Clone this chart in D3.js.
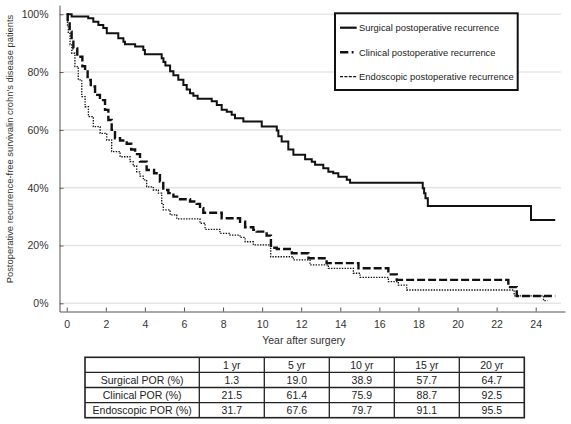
<!DOCTYPE html>
<html><head><meta charset="utf-8">
<script src="https://cdn.jsdelivr.net/npm/d3@7"></script>
<style>
body{margin:0;background:#fff}
svg{display:block}
text{font-family:"Liberation Sans",Arial,sans-serif}
</style>
</head><body>
<svg id="chart" width="571" height="424"></svg>
<script>
// ---------- data ----------
const surgicalTime = [0, 0.25, 1.1, 1.36, 1.62, 1.87, 2.05, 2.64, 2.9, 2.98, 3.5, 3.92, 4.0, 4.86, 4.95, 5.05, 5.29, 5.46, 5.71, 5.97, 6.14, 6.31, 6.48, 6.7, 7.42, 7.68, 7.93, 8.19, 8.44, 8.61, 9.04, 9.98, 10.75, 10.83, 11.0, 11.34, 11.6, 12.2, 12.54, 12.71, 13.13, 13.39, 13.64, 13.9, 14.33, 14.5, 18.22, 18.29, 18.36, 18.48, 23.76, 25.0];
const surgicalSurv = [100, 99.2, 98.6, 97.4, 96.3, 95.2, 93.4, 91.7, 90.5, 89.6, 88.8, 87.6, 86.2, 84.8, 83.5, 82.3, 80.3, 78.9, 77.3, 75.5, 74.0, 72.7, 71.8, 70.8, 69.9, 68.6, 67.0, 66.3, 65.2, 64.0, 62.9, 61.2, 59.8, 57.8, 56.0, 53.2, 51.4, 49.8, 49.0, 47.9, 46.7, 45.5, 45.0, 43.8, 42.7, 41.7, 39.8, 38.1, 36.3, 33.7, 28.8, 28.8];

const clinicalTime = [0, 0.05, 0.15, 0.25, 0.34, 0.54, 0.8, 0.94, 1.07, 1.23, 1.45, 1.7, 1.96, 2.13, 2.3, 2.47, 2.73, 3.07, 3.3, 3.5, 3.75, 4.09, 4.47, 4.77, 4.94, 5.2, 5.46, 5.8, 6.31, 6.65, 6.82, 6.99, 7.93, 8.87, 9.13, 9.55, 9.72, 10.23, 10.45, 10.75, 11.52, 12.37, 13.3, 14.93, 16.46, 16.89, 22.6, 23.03, 25.0];
const clinicalSurv = [100, 97.5, 94, 91, 88.2, 85.3, 82, 80.7, 77.3, 75.0, 72.1, 70.3, 66.9, 63.4, 60.0, 57.1, 56.3, 55.2, 53.2, 51.6, 49.0, 46.1, 45.0, 42.1, 39.2, 38.1, 36.9, 36.0, 35.2, 34.4, 32.9, 31.3, 29.4, 28.2, 26.3, 25.4, 24.8, 23.4, 19.2, 18.8, 17.3, 15.6, 13.9, 12.1, 10.0, 8.1, 5.6, 2.5, 2.5];

const endoscopicTime = [0, 0.04, 0.08, 0.17, 0.26, 0.42, 0.59, 0.77, 0.94, 1.11, 1.36, 1.71, 2.05, 2.3, 2.73, 3.24, 3.4, 3.58, 3.75, 3.92, 4.09, 4.43, 4.69, 4.86, 4.94, 5.29, 5.63, 6.82, 7.08, 7.84, 8.36, 8.87, 9.13, 9.55, 10.44, 11.6, 12.45, 13.39, 14.67, 15.01, 16.46, 16.97, 17.4, 22.9, 24.4, 24.6];
const endoscopicSurv = [100, 96, 93.4, 89.5, 86.5, 81.9, 77.3, 71.5, 68.0, 64.6, 61.1, 58.8, 56.5, 52.5, 50.7, 49.0, 47.5, 45.5, 44.0, 42.7, 40.3, 39.2, 38.1, 34.6, 32.3, 30.6, 29.2, 27.7, 25.6, 24.2, 23.6, 22.8, 21.3, 20.2, 16.1, 15.0, 13.3, 12.1, 10.4, 9.0, 7.5, 6.3, 4.6, 2.6, 0.9, 0.9];

const seriesNames = ["Surgical postoperative recurrence", "Clinical postoperative recurrence", "Endoscopic postoperative recurrence"];
const xTickValues = [0, 2, 4, 6, 8, 10, 12, 14, 16, 18, 20, 22, 24];
const yTickValues = [0, 20, 40, 60, 80, 100];
const xTitle = "Year after surgery";
const yTitle = "Postoperative recurrence-free survivalin crohn's disease patients";

const tableYears = ["1 yr", "5 yr", "10 yr", "15 yr", "20 yr"];
const tableRowLabels = ["Surgical POR (%)", "Clinical POR (%)", "Endoscopic POR (%)"];
const surgicalPOR = ["1.3", "19.0", "38.9", "57.7", "64.7"];
const clinicalPOR = ["21.5", "61.4", "75.9", "88.7", "92.5"];
const endoscopicPOR = ["31.7", "67.6", "79.7", "91.1", "95.5"];

// ---------- chart ----------
const svg = d3.select("#chart");
const x = d3.scaleLinear().domain([-0.37, 25.5]).range([59.5, 565]);
const y = d3.scaleLinear().domain([-2.84, 103.2]).range([311.5, 5]);

// gridlines
svg.append("g").selectAll("line").data(yTickValues).join("line")
  .attr("x1", 63).attr("x2", 561)
  .attr("y1", d => y(d)).attr("y2", d => y(d))
  .attr("stroke", "#e6e6e6").attr("stroke-width", 1.6);

// axes
const gx = svg.append("g").attr("transform", "translate(0,311.5)")
  .call(d3.axisBottom(x).tickValues(xTickValues).tickSize(-4).tickSizeOuter(0).tickPadding(9.5));
const gy = svg.append("g").attr("transform", "translate(59.5,0)")
  .call(d3.axisLeft(y).tickValues(yTickValues).tickFormat(d => d + "%").tickSize(-4).tickSizeOuter(0).tickPadding(11));
[gx, gy].forEach(g => {
  g.attr("font-family", null).attr("font-size", null);
  g.select(".domain").attr("stroke", "#555");
  g.selectAll(".tick line").attr("stroke", "#555");
  g.selectAll(".tick text").attr("fill", "#333").style("font-size", "10.5px");
});

// titles
svg.append("text").attr("x", 303.7).attr("y", 343.5).attr("text-anchor", "middle")
  .attr("fill", "#333").style("font-size", "10.5px").text(xTitle);
svg.append("text").attr("transform", "translate(12.5,149) rotate(-90)").attr("text-anchor", "middle")
  .attr("fill", "#333").style("font-size", "9.4px").text(yTitle);

// curves
const line = d3.line().x(d => x(d[0])).y(d => y(d[1])).curve(d3.curveStepAfter);
const styles = [
  {w: 2, dash: null},
  {w: 2.4, dash: "8,3"},
  {w: 1.3, dash: "1.4,1.3"}
];
const series = [
  d3.zip(surgicalTime, surgicalSurv),
  d3.zip(clinicalTime, clinicalSurv),
  d3.zip(endoscopicTime, endoscopicSurv)
];
series.forEach((s, i) => {
  svg.append("path").datum(s).attr("d", line)
    .attr("fill", "none").attr("stroke", "#111")
    .attr("stroke-width", styles[i].w)
    .attr("stroke-dasharray", styles[i].dash);
});

// legend
const lg = svg.append("g");
lg.append("rect").attr("x", 335).attr("y", 13.3).attr("width", 182.7).attr("height", 76.7)
  .attr("fill", "#fff").attr("stroke", "#111").attr("stroke-width", 2);
const legendRowY = [27.7, 52.3, 76.7];
const legendSample = [
  {x2: 356.7, w: 2.2, dash: null},
  {x2: 353.5, w: 2.4, dash: "8.3,3.4"},
  {x2: 357.3, w: 1.3, dash: "3,1.4"}
];
seriesNames.forEach((n, i) => {
  lg.append("line").attr("x1", 340).attr("x2", legendSample[i].x2)
    .attr("y1", legendRowY[i]).attr("y2", legendRowY[i])
    .attr("stroke", "#111").attr("stroke-width", legendSample[i].w)
    .attr("stroke-dasharray", legendSample[i].dash);
  lg.append("text").attr("x", 359).attr("y", legendRowY[i] + 3.4)
    .attr("fill", "#222").style("font-size", "9.4px").text(n);
});

// table
const tableData = [surgicalPOR, clinicalPOR, endoscopicPOR];
const colX = d3.scaleBand().domain(tableYears).range([199.3, 524.3]);
const rowY = d3.scaleBand().domain(["header"].concat(tableRowLabels)).range([357.3, 417.7]);
const tg = svg.append("g");
const left = 85, right = 524.3;
// horizontal lines
rowY.domain().slice(1).forEach(r => {
  tg.append("line").attr("x1", left).attr("x2", right).attr("y1", rowY(r)).attr("y2", rowY(r))
    .attr("stroke", "#222").attr("stroke-width", 1.3);
});
// vertical lines
tableYears.forEach(c => {
  tg.append("line").attr("x1", colX(c)).attr("x2", colX(c)).attr("y1", 357.3).attr("y2", 417.7)
    .attr("stroke", "#222").attr("stroke-width", 1.3);
});
tg.append("rect").attr("x", left).attr("y", 357.3).attr("width", right - left).attr("height", 417.7 - 357.3)
  .attr("fill", "none").attr("stroke", "#222").attr("stroke-width", 1.6);
const cy = r => rowY(r) + rowY.bandwidth() / 2 + 3.8;
tableYears.forEach(c => {
  tg.append("text").attr("x", colX(c) + colX.bandwidth() / 2).attr("y", cy("header"))
    .attr("text-anchor", "middle").style("font-size", "10.5px").attr("fill", "#222").text(c);
});
tableRowLabels.forEach((r, i) => {
  tg.append("text").attr("x", (left + 199.3) / 2).attr("y", cy(r))
    .attr("text-anchor", "middle").style("font-size", "10.5px").attr("fill", "#222").text(r);
  tableData[i].forEach((v, j) => {
    tg.append("text").attr("x", colX(tableYears[j]) + colX.bandwidth() / 2).attr("y", cy(r))
      .attr("text-anchor", "middle").style("font-size", "10.5px").attr("fill", "#222").text(v);
  });
});
</script>
</body></html>
